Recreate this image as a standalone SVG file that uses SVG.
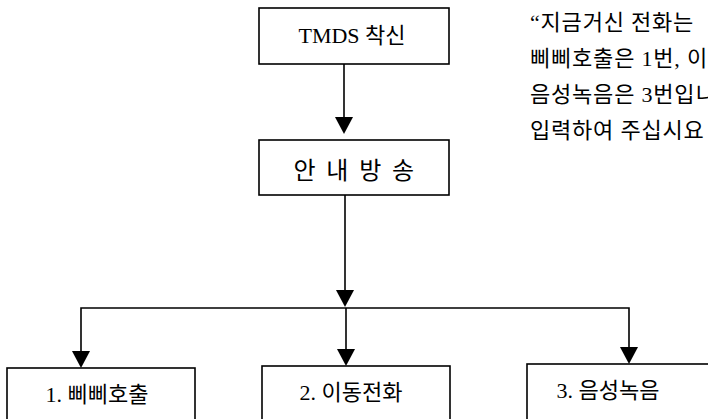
<svg xmlns="http://www.w3.org/2000/svg" width="708" height="419" viewBox="0 0 708 419">
<style>
.box{fill:#fff;stroke:#000;stroke-width:1.6}
.ln{fill:none;stroke:#000;stroke-width:1.6}
.ah{fill:#000}
.t{font-family:"Liberation Serif","Noto Sans CJK KR",serif;fill:#000}
.c{text-anchor:middle}
</style>
<rect width="708" height="419" fill="#fff"/>
<g id="connectors">
<path class="ln" d="M344,64 V130"/>
<path class="ah" d="M335,117 H353 L344,134 Z"/>
<path class="ln" d="M345,195 V303"/>
<path class="ah" d="M336,290 H354 L345,307 Z"/>
<path class="ln" d="M81,364 V308 H629 V360"/>
<path class="ln" d="M346,308 V362"/>
<path class="ah" d="M72,351 H90 L81,368 Z"/>
<path class="ah" d="M337,349 H355 L346,366 Z"/>
<path class="ah" d="M620,347 H638 L629,364 Z"/>
</g>
<g id="n_tmds">
<rect class="box" x="259" y="8" width="190" height="56"/>
<text class="t c" x="352" y="43" font-size="22">TMDS 착신</text>
</g>
<g id="n_guide">
<rect class="box" x="259" y="140" width="190" height="55"/>
<text class="t c" x="355" y="179" font-size="24" letter-spacing="2.4">안 내 방 송</text>
</g>
<g id="n_1">
<rect class="box" x="7" y="368" width="188" height="60"/>
<text class="t c" x="97" y="402" font-size="22">1. 삐삐호출</text>
</g>
<g id="n_2">
<rect class="box" x="262" y="366" width="188" height="60"/>
<text class="t c" x="351" y="400" font-size="22">2. 이동전화</text>
</g>
<g id="n_3">
<rect class="box" x="527" y="364" width="200" height="60"/>
<text class="t c" x="608" y="398" font-size="22">3. 음성녹음</text>
</g>
<g id="note" class="t" font-size="22" letter-spacing="0.8">
<text x="530" y="30">“지금거신 전화는</text>
<text x="530" y="66">삐삐호출은 1번, 이</text>
<text x="530" y="102">음성녹음은 3번입니</text>
<text x="530" y="138">입력하여 주십시요</text>
</g>
</svg>
